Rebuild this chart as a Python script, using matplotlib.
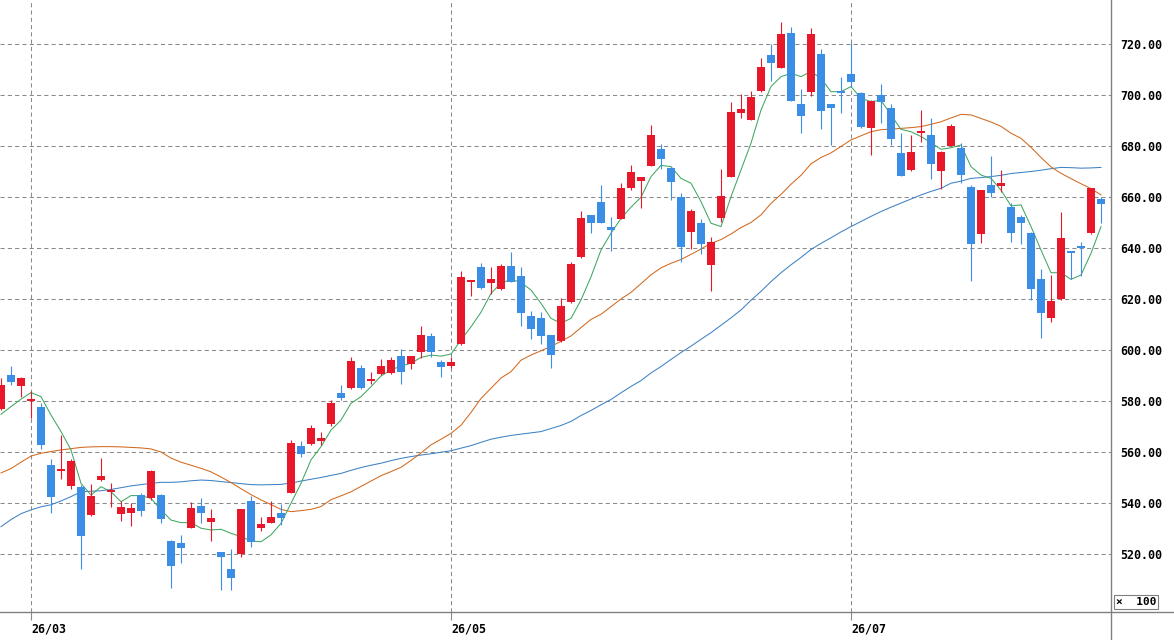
import numpy as np
import matplotlib.pyplot as plt
from matplotlib.lines import Line2D

# daily candles, first one is 3 sessions before 26/03
opens = [577, 590.2, 586, 580, 577.8, 554.9, 552.4, 546.7, 546.4, 535.4,
         549, 544.2, 535.7, 536.2, 543.1, 541.8, 543.1, 525.1, 524.4, 530.3,
         538.8, 532.4, 520.7, 514.1, 519.9, 540.9, 530.3, 532.3, 536.2, 544.1,
         562.4, 563, 564.4, 571, 583, 585, 592.8, 588, 590.5, 591.1,
         597.8, 594.4, 599.1, 605.5, 595.3, 593.9, 602.4, 626.8, 632.7, 626.4,
         623.9, 633.1, 629.1, 613.3, 612.4, 605.9, 603.7, 619, 636.4, 652.9,
         658.2, 648.4, 651.4, 663.6, 666.4, 672.3, 678.7, 671.3, 660.1, 646.4,
         649.7, 633.3, 651.9, 668, 693.1, 690.2, 701.6, 715.7, 710.7, 724.2,
         696.5, 701.3, 716.1, 696.4, 701.2, 708.1, 700.7, 687, 700, 694.8,
         677.1, 670.6, 685.2, 684.3, 670, 680.1, 679.1, 664, 645.5, 664.7,
         664.5, 656, 652, 646, 627.7, 612.7, 619.9, 638.8, 640.3, 645.8,
         659.2]
highs = [589, 593.8, 589.3, 584, 579.1, 557.1, 566.7, 557.1, 547, 547.3,
         557.8, 548, 540.8, 540.1, 544, 553, 543.5, 525.5, 527.3, 540.3,
         542.1, 537.5, 520.8, 522, 537.8, 542.9, 534.6, 540.8, 539.6, 564.7,
         564.3, 570.6, 568, 580.2, 586.3, 597.1, 594.1, 591.5, 596.3, 597.1,
         600.3, 597.8, 609.4, 606.8, 596.1, 597.1, 631.1, 627.6, 634, 632.7,
         633.7, 638.3, 632.7, 615.3, 614.8, 606, 620.5, 634.4, 654.5, 653,
         664.7, 652, 665.4, 672.5, 668, 688.2, 680.8, 671.9, 661.4, 655.2,
         651.2, 644.2, 670.8, 697.1, 700.3, 701.6, 714.4, 720, 728.5, 726.5,
         702.2, 726.4, 717.9, 696.5, 707, 720.3, 701.3, 698, 704.3, 696.5,
         685, 684.3, 694.1, 690.9, 678, 688.5, 681.1, 664.7, 662.9, 676.1,
         670.6, 657.5, 652.9, 646.2, 631.7, 629.4, 654, 639, 642.5, 663.6,
         660.1]
lows = [576.5, 586.3, 581.7, 573.2, 561, 536.2, 549.3, 545.4, 514.1, 535,
        548.8, 538.3, 533, 531, 535, 541.3, 532, 506.8, 516.6, 530,
        532, 525.2, 506, 506, 518.9, 522.9, 529.1, 532, 531.4, 543.8,
        557.9, 562.7, 562.7, 570.3, 580.4, 584.6, 584.8, 586.7, 590.3, 590.6,
        586.7, 592.7, 596.7, 597.4, 589.5, 592.8, 602, 621.2, 623.9, 621.8,
        623.7, 626.6, 609.5, 604.2, 602.4, 593.1, 603.3, 618.3, 636, 646,
        649.8, 639, 651.2, 662.7, 655.6, 672.1, 671, 658.8, 634.4, 639.5,
        637.5, 623.3, 650.1, 667.8, 691.1, 690, 701.1, 705.5, 710.5, 697.6,
        685, 699.7, 686.5, 680.4, 693.1, 703.3, 687, 676.5, 689.1, 680.4,
        668.2, 670.3, 681.7, 666.9, 663, 680, 665.4, 627.2, 642.1, 659.9,
        662.1, 642.2, 641.5, 619.6, 604.6, 610.9, 619.7, 627.8, 629, 645.6,
        649.7]
closes = [586.3, 587.6, 588.9, 580.6, 562.7, 542.5, 553.2, 556.5, 527.2, 542.9,
          550.6, 545, 538.6, 538.2, 536.9, 552.5, 533.7, 515.3, 522.5, 537.9,
          536.2, 534.1, 519, 510.7, 537.5, 524.8, 531.8, 534.6, 534.3, 563.6,
          559.1, 569.3, 565.6, 579.4, 581.3, 595.7, 585, 588.6, 593.7, 596.1,
          591.5, 597.6, 605.9, 599.4, 593.2, 595.3, 628.7, 627.5, 624.4, 627.8,
          633.1, 626.8, 614.4, 608.2, 605.6, 598, 617.3, 633.7, 651.6, 649.9,
          649.9, 647.1, 663.5, 669.9, 667.7, 684.3, 674.8, 666, 640.3, 654.5,
          641.6, 642.2, 660.4, 693.2, 694.5, 699.1, 710.9, 712.7, 723.9, 697.8,
          691.9, 723.9, 693.8, 694.8, 700.9, 705, 687.6, 697.8, 697.4, 682.6,
          668.4, 677.8, 685.9, 672.8, 677.8, 688, 668.6, 641.5, 662.7, 661.5,
          664.9, 646, 649.7, 623.8, 614.4, 619.2, 643.8, 638, 640, 663.4,
          657.1]

# moving averages, one value per candle
ma_short = [574.8, 577.8, 580.7, 583.3, 581.7, 574.5, 568, 560.8, 547.7, 543.1,
            546.4, 544.4, 540.5, 542.9, 542.9, 541.8, 537.3, 533.3, 532.3, 532.3,
            530.1, 529.4, 529.7, 528.1, 526.8, 525.1, 524.8, 527.5, 532, 539.9,
            547.7, 556.9, 562.1, 568.6, 572.5, 579.1, 581.7, 585.6, 589.8, 592.2,
            593.7, 594.8, 597.1, 598, 597.6, 598.4, 603.9, 609.1, 614.8, 622.2,
            626.2, 627.7, 626.5, 623.5, 618.3, 612.4, 610.5, 612.4, 619.6, 628.7,
            639.2, 645.8, 651.6, 656, 659.9, 668, 672.4, 671.9, 667.3, 665.4,
            658.2, 649.7, 648.4, 660.1, 670.6, 681.1, 694.1, 703.3, 707.2, 708.5,
            707.2, 709.2, 706.5, 701.3, 701.3, 703.3, 698.7, 697.4, 697.9, 692.2,
            686.5, 685.6, 683.7, 681.3, 678.7, 679.3, 680.4, 671.9, 668.6, 667.3,
            662.7, 656.5, 656.9, 648.4, 639.2, 630.3, 630.3, 627.7, 629.4, 637.9,
            648.4]
ma_mid = [551.8, 553.5, 556, 558.4, 559.5, 560.2, 560.8, 561.3, 561.8, 562,
          562.1, 562.1, 562, 561.8, 561.6, 561.2, 560, 557.6, 556, 554.8,
          553.6, 552.2, 550.2, 548, 545.6, 543.3, 541.2, 539.4, 537.5, 536.6,
          537, 537.5, 538.6, 541.3, 542.8, 544.4, 546.5, 548.6, 550.7, 552.3,
          554, 556.7, 559.6, 562.8, 565, 567.3, 570.5, 575.5, 581, 585,
          589, 591.5, 596, 598, 599.7, 601.4, 603.4, 605.5, 608.8, 612,
          614, 617, 620, 622.6, 626, 629.5, 632.2, 634, 635.5, 637.5,
          639.6, 641.8, 643.3, 645.5, 648, 650, 653, 657.5, 661, 665,
          668.5, 673, 675.5, 677.3, 679.8, 682.4, 684, 685.6, 686.4, 686.6,
          686.9, 687.2, 687.6, 688.5, 689.5, 691, 692.4, 692.2, 690.8, 689.4,
          687.7, 685, 683, 679.5, 675.5, 671.8, 669.3, 667.2, 665.2, 663.3,
          660.8]
ma_long = [530.7, 533.5, 535.8, 537.3, 538.5, 539.3, 540.8, 542.5, 544.4, 544.6,
           544.8, 545.3, 546, 546.7, 547.2, 547.7, 548.1, 548.1, 548.3, 548.7,
           549, 548.8, 548.4, 548, 547.6, 547.2, 547.1, 547.2, 547.3, 547.8,
           548.6, 549.3, 550, 550.8, 551.6, 552.8, 553.9, 554.8, 555.6, 556.6,
           557.5, 558.2, 558.8, 559.3, 559.9, 560.5, 561.5, 562.5, 563.8, 565,
           565.8, 566.5, 567, 567.5, 568, 569.2, 570.4, 572, 574.3, 576.3,
           578.5, 580.6, 583.2, 585.7, 588, 591, 593.5, 596.3, 599, 601.5,
           604.2, 606.8, 609.7, 612.6, 615.7, 619.5, 623, 626.8, 630.3, 633.4,
           636.3, 639.4, 641.8, 644, 646.3, 648.4, 650.4, 652.4, 654.3, 656,
           657.6, 659.2, 660.8, 662.2, 663.4, 665.4, 666.2, 667.3, 667.6, 668,
           668.5, 669.2, 669.6, 670, 670.5, 671.1, 671.6, 671.5, 671.3, 671.4,
           671.6]

month_pos = [0, 42, 82]
month_labels = ['26/03', '26/05', '26/07']
price_ticks = [520, 540, 560, 580, 600, 620, 640, 660, 680, 700, 720]

RED = '#E8182A'
BLUE = '#3A8EE6'
GRIDC = '#8A8A8A'

o = np.array(opens); h = np.array(highs); l = np.array(lows); c = np.array(closes)
x = np.arange(len(o)) - 3
up = c >= o
cols = np.where(up, RED, BLUE)
bottoms = np.minimum(o, c)
heights = np.maximum(np.abs(c - o), 0.8)

W, H = 1174, 640
fig = plt.figure(figsize=(W / 100, H / 100), dpi=100)
ax = fig.add_axes([0, 28 / H, 1111 / W, 612 / H])

#%% grid
for p in price_ticks:
    ax.axhline(p, color=GRIDC, lw=0.75, ls=(0, (4, 3)), zorder=1)
for m in month_pos:
    ax.axvline(m, color=GRIDC, lw=0.75, ls=(0, (4, 3)), zorder=1)

#%% moving averages
ax.plot(x, ma_long, color='#3D82C4', lw=0.75, zorder=2)
ax.plot(x, ma_mid, color='#D2691E', lw=0.75, zorder=2)
ax.plot(x, ma_short, color='#3FA760', lw=0.75, zorder=2)

#%% candles
ax.vlines(x, l, h, colors=cols, lw=0.8, zorder=3)
ax.bar(x, heights, bottom=bottoms, width=0.8, color=cols, linewidth=0, zorder=4)

ax.set_xlim(-3.1, 108)
ax.set_ylim(497.25, 737.25)

for s in ax.spines.values():
    s.set_visible(False)

ax.yaxis.tick_right()
ax.set_yticks(price_ticks, [f'{p:.2f}' for p in price_ticks])
ax.tick_params(axis='y', length=0, pad=6.5, labelsize=8.4)
ax.set_xticks(month_pos, month_labels)
ax.tick_params(axis='x', length=6, width=0.8, color=GRIDC, pad=1.5,
               direction='out', labelsize=8.4)
for lbl in ax.get_xticklabels() + ax.get_yticklabels():
    lbl.set_fontweight('bold')
    lbl.set_family('DejaVu Sans Mono')
for lbl in ax.get_xticklabels():
    lbl.set_horizontalalignment('left')

# frame lines: bottom runs full width, right runs full height
fig.add_artist(Line2D([0, 1], [28 / H, 28 / H], color='#808080', lw=1.0))
fig.add_artist(Line2D([1111 / W, 1111 / W], [0, 1], color='#808080', lw=1.0))

fig.text(1136 / W, 38 / H, '\u00d7  100', ha='center', va='center',
         fontsize=8, fontweight='bold', family='DejaVu Sans Mono',
         bbox=dict(boxstyle='square,pad=0.15', fc='white', ec='#808080', lw=0.8))

fig.savefig('out.png', dpi=100)
